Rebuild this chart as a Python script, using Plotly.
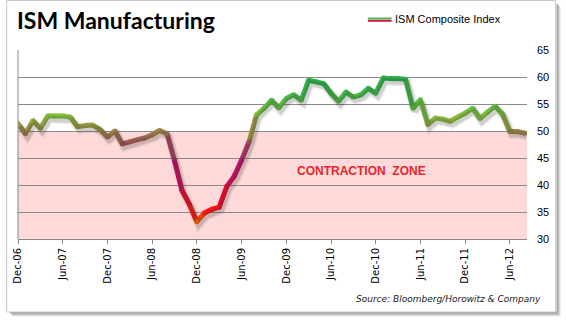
import pandas as pd
import plotly.graph_objects as go

# ISM Composite Index, monthly, Dec-2006 .. Aug-2012
ism = [
    51.4, 49.5, 51.9, 50.5, 52.8, 52.8, 52.8, 52.6, 50.8, 51.0, 51.1, 50.3,   # Dec-06 .. Nov-07
    48.9, 50.0, 47.6, 48.0, 48.4, 48.7, 49.3, 50.1, 49.5, 44.5, 39.0, 36.4,   # Dec-07 .. Nov-08
    33.2, 34.8, 35.5, 35.9, 39.7, 41.6, 44.6, 48.0, 53.0, 54.2, 55.7, 54.3,   # Dec-08 .. Nov-09
    56.0, 56.7, 55.7, 59.4, 59.1, 58.8, 57.0, 55.5, 57.2, 56.3, 56.7, 57.9,   # Dec-09 .. Nov-10
    57.0, 59.8, 59.7, 59.7, 59.6, 54.2, 55.8, 51.2, 52.4, 52.2, 51.8, 52.6,   # Dec-10 .. Nov-11
    53.3, 54.2, 52.3, 53.5, 54.6, 53.2, 49.9, 49.9, 49.6,                     # Dec-11 .. Aug-12
]
months = list(pd.date_range("2006-12-01", periods=len(ism), freq="MS").strftime("%b-%y"))
tick_labels = ["Dec-06", "Jun-07", "Dec-07", "Jun-08", "Dec-08", "Jun-09",
               "Dec-09", "Jun-10", "Dec-10", "Jun-11", "Dec-11", "Jun-12"]
tick_pos = [months.index(t) for t in tick_labels]
contraction_level = 50
y_min, y_max = 30, 65

# value -> line colour (orange/red at the lows, olive near 50, green at the highs)
color_stops = [
    (33.0, (255, 120, 0)),
    (35.0, (255, 20, 20)),
    (38.0, (235, 10, 50)),
    (42.0, (200, 15, 100)),
    (45.0, (178, 28, 115)),
    (47.5, (165, 80, 92)),
    (50.0, (160, 135, 72)),
    (52.5, (140, 195, 60)),
    (55.0, (95, 190, 70)),
    (58.0, (52, 182, 75)),
    (61.0, (40, 175, 75)),
]


def value_color(v):
    if v <= color_stops[0][0]:
        c = color_stops[0][1]
    elif v >= color_stops[-1][0]:
        c = color_stops[-1][1]
    else:
        for (v0, c0), (v1, c1) in zip(color_stops, color_stops[1:]):
            if v0 <= v <= v1:
                t = (v - v0) / (v1 - v0)
                c = tuple(round(a + (b - a) * t) for a, b in zip(c0, c1))
                break
    return "rgb(%d,%d,%d)" % c


# figure geometry (pixels)
W, H = 566, 321
ML, MR, MT, MB = 12, 39, 50, 82
PW, PH = W - ML - MR, H - MT - MB
x_range = [0, len(ism) - 0.7]
px_per_x = PW / (x_range[1] - x_range[0])
px_per_y = PH / (y_max - y_min)


def px(xp):
    return (xp - ML) / PW


def py(yp):
    return (H - MB - yp) / PH


fig = go.Figure()
xs = list(range(len(ism)))

# soft drop shadow, drawn on an overlaid axis pair nudged right/down
for w, a in [(9, 0.07), (6, 0.16)]:
    fig.add_trace(go.Scatter(
        x=xs, y=ism, mode="lines", xaxis="x2", yaxis="y2",
        line=dict(color="rgba(40,40,40,%.2f)" % a, width=w),
        hoverinfo="skip", showlegend=False,
    ))

# gradient-coloured line, one segment per month
for i in range(len(ism) - 1):
    fig.add_trace(go.Scatter(
        x=xs[i:i + 2], y=ism[i:i + 2], mode="lines",
        line=dict(color=value_color((ism[i] + ism[i + 1]) / 2), width=5),
        showlegend=False, hoverinfo="skip",
    ))
fig.add_trace(go.Scatter(
    x=xs, y=ism, mode="markers",
    marker=dict(size=5, color=[value_color(v) for v in ism], line=dict(width=0)),
    showlegend=False, name="ISM Composite Index",
))

shapes = [
    # contraction zone band
    dict(type="rect", xref="paper", yref="y", x0=0, x1=1, y0=y_min, y1=contraction_level,
         fillcolor="#fdd9d9", line=dict(width=0), layer="below"),
    # left axis line
    dict(type="line", xref="paper", yref="paper", x0=0, x1=0, y0=0, y1=1,
         line=dict(color="#8a8a8a", width=1)),
    # legend sample
    dict(type="line", xref="paper", yref="paper", x0=px(366), x1=px(390), y0=py(18.5), y1=py(18.5),
         line=dict(color="#4cb84a", width=2)),
    dict(type="line", xref="paper", yref="paper", x0=px(366), x1=px(390), y0=py(20.8), y1=py(20.8),
         line=dict(color="#d8194a", width=2)),
    # outer frame with shadow
    dict(type="rect", xref="paper", yref="paper", x0=px(0.5), x1=px(556), y0=py(0.5), y1=py(312),
         line=dict(color="#c8c8c8", width=1), fillcolor="rgba(0,0,0,0)", layer="below"),
]
for k, a in enumerate([0.55, 0.4, 0.25, 0.12]):
    shapes.append(dict(type="line", xref="paper", yref="paper",
                       x0=px(557.5 + k), x1=px(557.5 + k), y0=py(4 + k), y1=py(313 + k),
                       line=dict(color="rgba(60,60,60,%.2f)" % a, width=1)))
    shapes.append(dict(type="line", xref="paper", yref="paper",
                       x0=px(4 + k), x1=px(557.5 + k), y0=py(313 + k), y1=py(313 + k),
                       line=dict(color="rgba(60,60,60,%.2f)" % a, width=1)))

annotations = [
    dict(text="<b>ISM Manufacturing</b>", xref="paper", yref="paper", x=px(9), y=py(20),
         xanchor="left", yanchor="middle", showarrow=False,
         font=dict(family="Lato", size=23, color="#000000")),
    dict(text="ISM Composite Index", xref="paper", yref="paper", x=px(391), y=py(19.5),
         xanchor="left", yanchor="middle", showarrow=False,
         font=dict(family="Liberation Sans", size=11, color="#000000")),
    dict(text="<b>CONTRACTION  ZONE</b>", xref="paper", yref="paper", x=px(360), y=py(171),
         xanchor="center", yanchor="middle", showarrow=False,
         font=dict(family="Liberation Sans", size=12, color="#e8262a")),
    dict(text="<i>Source: Bloomberg/Horowitz &amp; Company</i>", xref="paper", yref="paper",
         x=px(543), y=py(299), xanchor="right", yanchor="middle", showarrow=False,
         font=dict(family="DejaVu Sans", size=9, color="#202020")),
]

fig.update_layout(
    width=W, height=H, autosize=False,
    margin=dict(l=ML, r=MR, t=MT, b=MB),
    paper_bgcolor="white", plot_bgcolor="rgba(0,0,0,0)",
    showlegend=False,
    shapes=shapes, annotations=annotations,
    xaxis=dict(
        range=x_range, tickmode="array", tickvals=tick_pos, ticktext=tick_labels,
        tickangle=-90, ticks="outside", ticklen=4, tickcolor="#8a8a8a",
        showline=True, linecolor="#8a8a8a", linewidth=1,
        showgrid=False, zeroline=False,
        tickfont=dict(family="DejaVu Sans", size=10, color="#000000"),
    ),
    yaxis=dict(
        range=[y_min, y_max], dtick=5, side="right",
        showgrid=True, gridcolor="#8a8a8a", gridwidth=1,
        ticks="", showline=False, zeroline=False, ticklabelstandoff=9,
        tickfont=dict(family="Liberation Sans", size=11, color="#000000"),
    ),
    xaxis2=dict(overlaying="x", visible=False,
                range=[x_range[0] - 2 / px_per_x, x_range[1] - 2 / px_per_x]),
    yaxis2=dict(overlaying="y", visible=False,
                range=[y_min + 3 / px_per_y, y_max + 3 / px_per_y]),
)

fig.write_html("out.html")
